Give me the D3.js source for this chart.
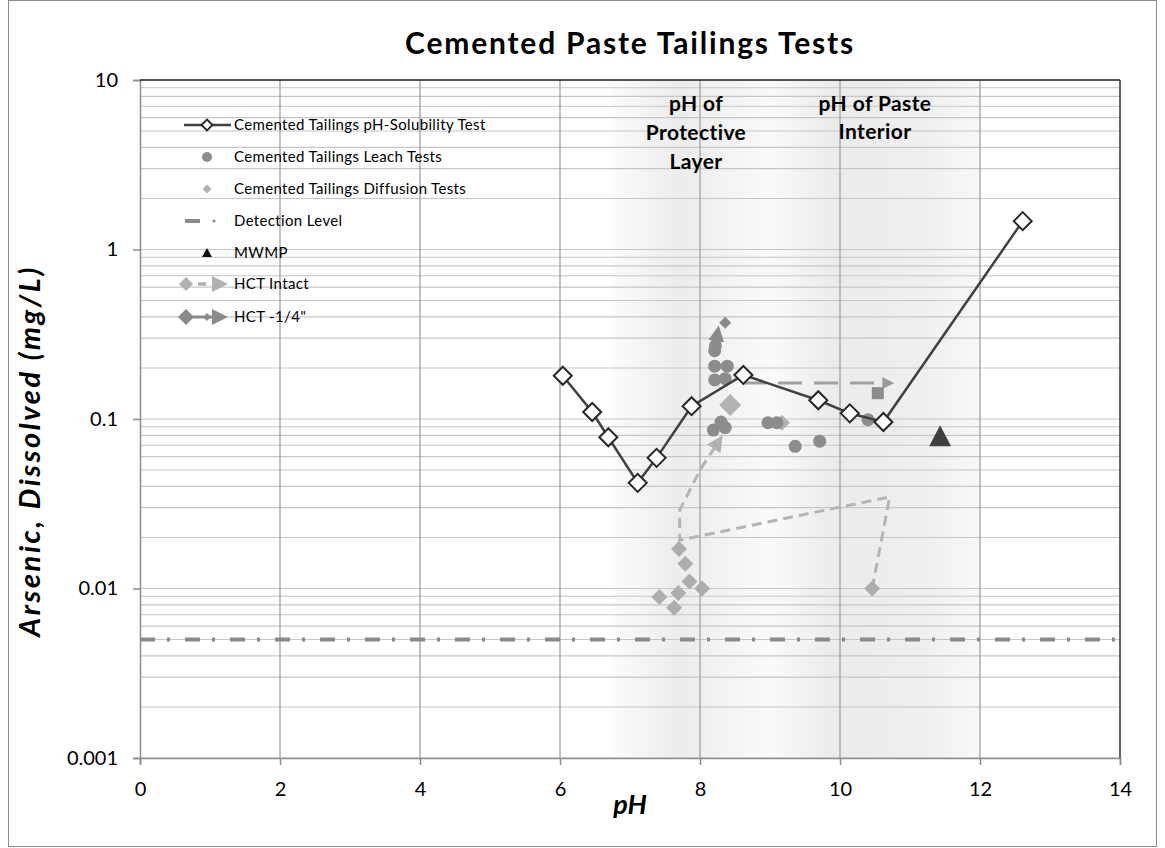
<!DOCTYPE html>
<html>
<head>
<meta charset="utf-8">
<script src="https://cdn.jsdelivr.net/npm/d3@7"></script>
<style>
  body { margin: 0; background: #fff; }
  svg { display: block; font-family: Lato, "Open Sans", sans-serif; }
</style>
</head>
<body>
<svg width="1165" height="848"></svg>
<script>
// ---- data ----
var solubilityPH = [6.04, 6.46, 6.69, 7.11, 7.38, 7.88, 8.62, 9.69, 10.14, 10.62, 12.61];
var solubilityAs = [0.18, 0.11, 0.078, 0.042, 0.059, 0.119, 0.182, 0.129, 0.108, 0.096, 1.47];

var leachPH = [8.21, 8.22, 8.21, 8.39, 8.21, 8.36, 8.19, 8.30, 8.36, 8.97, 9.10, 9.36, 9.71, 10.40];
var leachAs = [0.253, 0.27, 0.205, 0.205, 0.17, 0.173, 0.086, 0.096, 0.089, 0.095, 0.095, 0.069, 0.074, 0.099];

var diffusionPH = [8.43, 9.17];
var diffusionAs = [0.121, 0.095];

var hctIntactPH = [7.70, 7.79, 7.85, 8.03, 7.69, 7.42, 7.63, 10.46];
var hctIntactAs = [0.0171, 0.014, 0.011, 0.010, 0.0094, 0.0089, 0.0077, 0.010];
var hctIntactLinePH = [10.46, 10.71, 7.71, 7.71, 8.00, 8.26];
var hctIntactLineAs = [0.010, 0.0347, 0.0193, 0.029, 0.050, 0.073];

var hctQuarterLinePH = [8.21, 8.25];
var hctQuarterLineAs = [0.253, 0.32];
var hctQuarterPH = [8.36];
var hctQuarterAs = [0.37];
var hctQuarterDashPH = [8.60, 10.69];
var hctQuarterDashAs = [0.163, 0.163];
var hctSquarePH = [10.54];
var hctSquareAs = [0.142];

var mwmpPH = [11.43];
var mwmpAs = [0.078];

var detectionLevel = 0.005;

var xTicks = [0, 2, 4, 6, 8, 10, 12, 14];
var yTicks = [0.001, 0.01, 0.1, 1, 10];
var yTickLabels = ["0.001", "0.01", "0.1", "1", "10"];

var bandStart = 6.75, bandMid = 9.0, bandEnd = 12.0;

var legendNames = ["Cemented Tailings pH-Solubility Test", "Cemented Tailings Leach Tests",
  "Cemented Tailings Diffusion Tests", "Detection Level", "MWMP", "HCT Intact", "HCT -1/4\""];

// ---- layout ----
var svg = d3.select("svg");
var margin = {left: 140, top: 80, right: 45, bottom: 90};
var W = 1165, H = 848;

var x = d3.scaleLinear().domain([0, 14]).range([margin.left, W - margin.right]);
var y = d3.scaleLog().domain([0.001, 10]).range([H - margin.bottom, margin.top]);

function diamond(r) { return "M0," + (-r) + "L" + r + ",0L0," + r + "L" + (-r) + ",0Z"; }

// outer frame
svg.append("rect").attr("x", 8.5).attr("y", 0.5).attr("width", 1148).attr("height", 846)
  .attr("fill", "#fff").attr("stroke", "#8c8c8c");

var defs = svg.append("defs");
var grad = defs.append("linearGradient").attr("id", "band").attr("x1", "0%").attr("x2", "100%");
var midOff = (bandMid - bandStart) / (bandEnd - bandStart);
[[0, "#fbfbfb"], [0.18, "#ececec"], [midOff, "#fafafa"], [0.6, "#ebebeb"], [0.85, "#efefef"], [1, "#f8f8f8"]]
  .forEach(function(s) { grad.append("stop").attr("offset", s[0]).attr("stop-color", s[1]); });

function arrow(id, color, size) {
  defs.append("marker").attr("id", id).attr("viewBox", "0 0 10 10").attr("refX", 5).attr("refY", 5)
    .attr("markerUnits", "userSpaceOnUse").attr("markerWidth", size).attr("markerHeight", size)
    .attr("orient", "auto")
    .append("path").attr("d", "M0,0L10,5L0,10Z").attr("fill", color);
}
arrow("arrIntact", "#b0b0b0", 16);
arrow("arrQuarter", "#8a8a8a", 16);
arrow("arrDash", "#9a9a9a", 12);

// shaded pH band
svg.append("rect")
  .attr("x", x(bandStart)).attr("y", y(10))
  .attr("width", x(bandEnd) - x(bandStart)).attr("height", y(0.001) - y(10))
  .attr("fill", "url(#band)");

// gridlines
var minor = [];
for (var e = -3; e < 1; e++) for (var m = 1; m < 10; m++) minor.push(m * Math.pow(10, e));
svg.append("g").selectAll("line").data(minor).join("line")
  .attr("x1", x(0)).attr("x2", x(14))
  .attr("y1", function(d) { return y(d); }).attr("y2", function(d) { return y(d); })
  .attr("stroke", "#c6c6c6").attr("stroke-width", 1.2);
svg.append("g").selectAll("line").data(xTicks.slice(1, -1)).join("line")
  .attr("x1", function(d) { return x(d); }).attr("x2", function(d) { return x(d); })
  .attr("y1", y(10)).attr("y2", y(0.001))
  .attr("stroke", "#a0a0a0").attr("stroke-width", 1.3);

// axes
var xAxis = svg.append("g").attr("transform", "translate(0," + y(0.001) + ")")
  .call(d3.axisBottom(x).tickValues(xTicks).tickSize(7).tickPadding(17));
var yAxis = svg.append("g").attr("transform", "translate(" + x(0) + ",0)")
  .call(d3.axisLeft(y).tickValues(yTicks).tickFormat(function(d, i) { return yTickLabels[i]; })
    .tickSize(7).tickPadding(15));
[xAxis, yAxis].forEach(function(a) {
  a.select(".domain").attr("stroke", "#8c8c8c").attr("stroke-width", 1.5);
  a.selectAll(".tick line").attr("stroke", "#8c8c8c").attr("stroke-width", 1.5);
  a.selectAll("text").attr("font-size", 20).attr("fill", "#000").attr("font-family", "Lato, sans-serif");
});

// top and right border of plot area
svg.append("line").attr("x1", x(0)).attr("x2", x(14)).attr("y1", y(10)).attr("y2", y(10))
  .attr("stroke", "#1a1a1a").attr("stroke-width", 1.5);
svg.append("line").attr("x1", x(14)).attr("x2", x(14)).attr("y1", y(10)).attr("y2", y(0.001))
  .attr("stroke", "#333").attr("stroke-width", 1.5);

// detection level
svg.append("line").attr("x1", x(0)).attr("x2", x(14))
  .attr("y1", y(detectionLevel)).attr("y2", y(detectionLevel))
  .attr("stroke", "#8a8a8a").attr("stroke-width", 4).attr("stroke-dasharray", "15,12,3,15");

// annotations over band
var note = svg.append("g").attr("font-weight", "bold").attr("font-size", 21)
  .attr("letter-spacing", 0.4).attr("text-anchor", "middle");
note.append("text").attr("x", 696).attr("y", 111).text("pH of");
note.append("text").attr("x", 696).attr("y", 140).text("Protective");
note.append("text").attr("x", 696).attr("y", 169).text("Layer");
note.append("text").attr("x", 875).attr("y", 111).text("pH of Paste");
note.append("text").attr("x", 875).attr("y", 139).text("Interior");

function pts(a, b) { return a.map(function(v, i) { return [x(v), y(b[i])]; }); }
var line = d3.line();

// HCT intact dashed path
svg.append("path").attr("d", line(pts(hctIntactLinePH, hctIntactLineAs)))
  .attr("fill", "none").attr("stroke", "#b4b4b4").attr("stroke-width", 3)
  .attr("stroke-dasharray", "10,6").attr("marker-end", "url(#arrIntact)");
svg.append("g").selectAll("path").data(pts(hctIntactPH, hctIntactAs)).join("path")
  .attr("transform", function(d) { return "translate(" + d[0] + "," + d[1] + ")"; })
  .attr("d", diamond(8)).attr("fill", "#adadad");

// HCT -1/4" dashed horizontal + square
svg.append("path").attr("d", line(pts(hctQuarterDashPH, hctQuarterDashAs)))
  .attr("fill", "none").attr("stroke", "#a0a0a0").attr("stroke-width", 3)
  .attr("stroke-dasharray", "24,12").attr("marker-end", "url(#arrDash)");
svg.append("g").selectAll("rect").data(pts(hctSquarePH, hctSquareAs)).join("rect")
  .attr("x", function(d) { return d[0] - 6; }).attr("y", function(d) { return d[1] - 6; })
  .attr("width", 12).attr("height", 12).attr("fill", "#8c8c8c");

// diffusion tests
svg.append("g").selectAll("path").data(pts(diffusionPH, diffusionAs)).join("path")
  .attr("transform", function(d) { return "translate(" + d[0] + "," + d[1] + ")"; })
  .attr("d", function(d, i) { return diamond(i === 0 ? 11 : 8); }).attr("fill", "#b2b2b2");

// leach tests
svg.append("g").selectAll("circle").data(pts(leachPH, leachAs)).join("circle")
  .attr("cx", function(d) { return d[0]; }).attr("cy", function(d) { return d[1]; })
  .attr("r", 6.5).attr("fill", "#8c8c8c");

// HCT -1/4" arrow
svg.append("path").attr("d", line(pts(hctQuarterLinePH, hctQuarterLineAs)))
  .attr("fill", "none").attr("stroke", "#8a8a8a").attr("stroke-width", 3)
  .attr("marker-end", "url(#arrQuarter)");
svg.append("g").selectAll("path").data(pts(hctQuarterPH, hctQuarterAs)).join("path")
  .attr("transform", function(d) { return "translate(" + d[0] + "," + d[1] + ")"; })
  .attr("d", diamond(6)).attr("fill", "#8a8a8a");

// MWMP
svg.append("g").selectAll("path").data(pts(mwmpPH, mwmpAs)).join("path")
  .attr("transform", function(d) { return "translate(" + d[0] + "," + d[1] + ")"; })
  .attr("d", "M0,-12L11,9L-11,9Z").attr("fill", "#404040");

// pH-solubility test
svg.append("path").attr("d", line(pts(solubilityPH, solubilityAs)))
  .attr("fill", "none").attr("stroke", "#404040").attr("stroke-width", 2.5);
svg.append("g").selectAll("path").data(pts(solubilityPH, solubilityAs)).join("path")
  .attr("transform", function(d) { return "translate(" + d[0] + "," + d[1] + ")"; })
  .attr("d", diamond(9)).attr("fill", "#fff").attr("stroke", "#262626").attr("stroke-width", 2);

// legend
var lg = svg.append("g").attr("font-size", 15).attr("letter-spacing", 0.35);
var ly = [125, 157, 189, 221, 253, 284, 317];
lg.selectAll("text").data(legendNames).join("text")
  .attr("x", 234).attr("y", function(d, i) { return ly[i]; }).attr("dy", "0.35em").text(function(d) { return d; });
lg.append("line").attr("x1", 184).attr("x2", 231).attr("y1", ly[0]).attr("y2", ly[0])
  .attr("stroke", "#404040").attr("stroke-width", 2.5);
lg.append("path").attr("transform", "translate(207," + ly[0] + ")").attr("d", diamond(5.5))
  .attr("fill", "#fff").attr("stroke", "#262626").attr("stroke-width", 1.8);
lg.append("circle").attr("cx", 207).attr("cy", ly[1]).attr("r", 5).attr("fill", "#8c8c8c");
lg.append("path").attr("transform", "translate(207," + ly[2] + ")").attr("d", diamond(4.5)).attr("fill", "#b2b2b2");
lg.append("line").attr("x1", 185).attr("x2", 200).attr("y1", ly[3]).attr("y2", ly[3])
  .attr("stroke", "#8a8a8a").attr("stroke-width", 4);
lg.append("circle").attr("cx", 214).attr("cy", ly[3]).attr("r", 1.6).attr("fill", "#8a8a8a");
lg.append("path").attr("transform", "translate(207," + ly[4] + ")").attr("d", "M0,-5L5,4L-5,4Z").attr("fill", "#111");
lg.append("path").attr("transform", "translate(186," + ly[5] + ")").attr("d", diamond(7)).attr("fill", "#b0b0b0");
lg.append("line").attr("x1", 198).attr("x2", 206).attr("y1", ly[5]).attr("y2", ly[5])
  .attr("stroke", "#b0b0b0").attr("stroke-width", 3.5);
lg.append("path").attr("transform", "translate(212," + ly[5] + ")").attr("d", "M0,-8L16,0L0,8Z").attr("fill", "#b0b0b0");
lg.append("path").attr("transform", "translate(186," + ly[6] + ")").attr("d", diamond(8)).attr("fill", "#8a8a8a");
lg.append("line").attr("x1", 190).attr("x2", 212).attr("y1", ly[6]).attr("y2", ly[6])
  .attr("stroke", "#8a8a8a").attr("stroke-width", 3);
lg.append("path").attr("transform", "translate(207," + ly[6] + ")").attr("d", diamond(4)).attr("fill", "#8a8a8a");
lg.append("path").attr("transform", "translate(212," + ly[6] + ")").attr("d", "M0,-8L16,0L0,8Z").attr("fill", "#8a8a8a");

// titles
svg.append("text").attr("x", 630).attr("y", 54).attr("text-anchor", "middle")
  .attr("font-size", 30).attr("font-weight", "bold").attr("letter-spacing", 1.8)
  .text("Cemented Paste Tailings Tests");
svg.append("text").attr("transform", "translate(40," + ((y(10) + y(0.001)) / 2 + 32) + ") rotate(-90)")
  .attr("text-anchor", "middle").attr("font-size", 29).attr("font-weight", "bold").attr("font-style", "italic")
  .attr("letter-spacing", 2.6).text("Arsenic, Dissolved (mg/L)");
svg.append("text").attr("x", x(7)).attr("y", 814).attr("text-anchor", "middle")
  .attr("font-size", 27).attr("font-weight", "bold").attr("font-style", "italic").text("pH");
</script>
</body>
</html>
